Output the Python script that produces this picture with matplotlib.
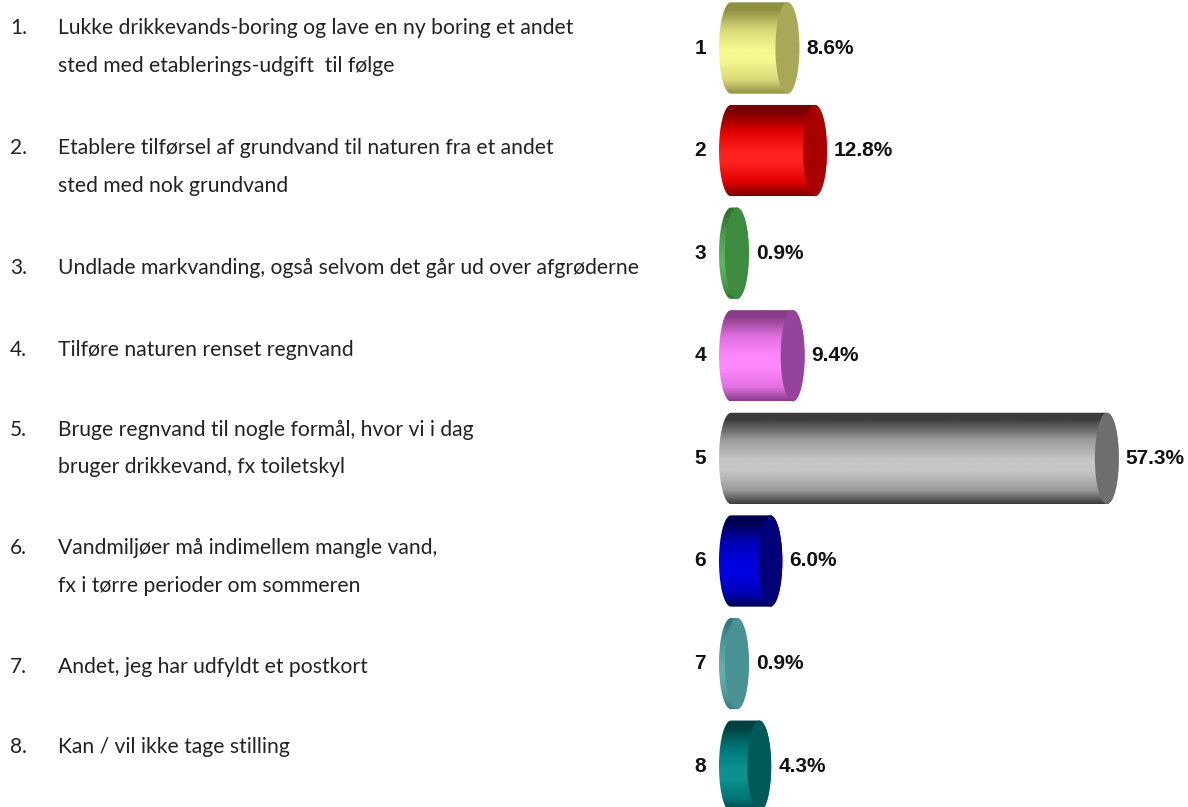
import numpy as np
import matplotlib
matplotlib.use("Agg")
import matplotlib.pyplot as plt
from matplotlib.patches import Ellipse, PathPatch
from matplotlib.path import Path
from matplotlib.colors import LinearSegmentedColormap

# ---- data ----
numbers = ["1", "2", "3", "4", "5", "6", "7", "8"]
values = [8.6, 12.8, 0.9, 9.4, 57.3, 6.0, 0.9, 4.3]
value_labels = ["8.6%", "12.8%", "0.9%", "9.4%", "57.3%", "6.0%", "0.9%", "4.3%"]
statements = [
    ["Lukke drikkevands-boring og lave en ny boring et andet",
     "sted med etablerings-udgift  til følge"],
    ["Etablere tilførsel af grundvand til naturen fra et andet",
     "sted med nok grundvand"],
    ["Undlade markvanding, også selvom det går ud over afgrøderne"],
    ["Tilføre naturen renset regnvand"],
    ["Bruge regnvand til nogle formål, hvor vi i dag",
     "bruger drikkevand, fx toiletskyl"],
    ["Vandmiljøer må indimellem mangle vand,",
     "fx i tørre perioder om sommeren"],
    ["Andet, jeg har udfyldt et postkort"],
    ["Kan / vil ikke tage stilling"],
]
# colours: (dark edge, mid, light highlight, end cap)
bar_colors = [
    ("#8f8f40", "#d8d878", "#f8f890", "#a8a858"),
    ("#7a0000", "#e00000", "#ff2020", "#a80000"),
    ("#2f742f", "#4c9c4c", "#60b060", "#3e8a3e"),
    ("#8a3c8a", "#e070e0", "#ff88ff", "#94449a"),
    ("#3c3c3c", "#9a9a9a", "#c6c6c6", "#6e6e6e"),
    ("#000050", "#0000b8", "#0000e0", "#000078"),
    ("#357a7a", "#4f9a9a", "#64acac", "#4a9292"),
    ("#004040", "#007676", "#0c9090", "#005858"),
]

# ---- layout (figure pixels) ----
W, H = 1188, 807
fig = plt.figure(figsize=(W / 100, H / 100), dpi=100)
fig.patch.set_facecolor("white")

ax = fig.add_axes([690 / W, 0, (W - 690) / W, 1])
px_per_pct = 6.56
x0_px = 731
ax.set_xlim((690 - x0_px) / px_per_pct, (W - x0_px) / px_per_pct)
ycenter0, ystep = 48, 102.6
ax.set_ylim((H - ycenter0) / ystep, (0 - ycenter0) / ystep)
ax.axis("off")

hw = 12 / px_per_pct      # half width of end ellipse (data units)
bh = 0.89                 # bar height (category units)

t = np.linspace(0, 1, 256)
for i, (v, (dark, mid, light, cap)) in enumerate(zip(values, bar_colors)):
    y = i
    th_l = np.linspace(np.pi / 2, 3 * np.pi / 2, 60)
    th_r = np.linspace(-np.pi / 2, np.pi / 2, 60)
    left = np.column_stack([hw * np.cos(th_l), y - (bh / 2) * np.sin(th_l)])
    right = np.column_stack([v + hw * np.cos(th_r), y - (bh / 2) * np.sin(th_r)])
    pts = np.vstack([left, right, left[:1]])
    patch = PathPatch(Path(pts, closed=True), facecolor="none", edgecolor="none")
    ax.add_patch(patch)
    cmap = LinearSegmentedColormap.from_list(
        f"c{i}", [(0, dark), (0.08, dark), (0.3, mid), (0.52, light),
                  (0.64, light), (0.85, mid), (1.0, dark)])
    im = ax.imshow(t.reshape(-1, 1), cmap=cmap, aspect="auto",
                   interpolation="bilinear",
                   extent=(-hw, v + hw, y + bh / 2, y - bh / 2), origin="upper",
                   zorder=2)
    im.set_clip_path(patch)
    ax.add_patch(Ellipse((v, y), 2 * hw, bh, facecolor=cap, edgecolor="none",
                         zorder=3))
    ax.annotate(numbers[i], xy=(-hw, y), xytext=(-13, 0), textcoords="offset pixels",
                ha="right", va="center", fontsize=15, fontweight="bold",
                family="Liberation Sans", color="#111111")
    ax.annotate(value_labels[i], xy=(v + hw, y), xytext=(7, 0),
                textcoords="offset pixels", ha="left", va="center",
                fontsize=15, fontweight="bold", family="Liberation Sans",
                color="#111111", annotation_clip=False)

# left statement list
line_y = [[28, 66], [148, 186], [268], [350], [430, 467], [548, 586], [667], [747]]
for i, lines in enumerate(statements):
    fig.text(10 / W, 1 - line_y[i][0] / H, f"{i + 1}.", ha="left", va="center",
             fontsize=15, family="Lato", color="#222222")
    for ln, yy in zip(lines, line_y[i]):
        fig.text(58 / W, 1 - yy / H, ln, ha="left", va="center",
                 fontsize=15.2, family="Lato", color="#222222")

fig.savefig("out.png", dpi=100, facecolor="white")
